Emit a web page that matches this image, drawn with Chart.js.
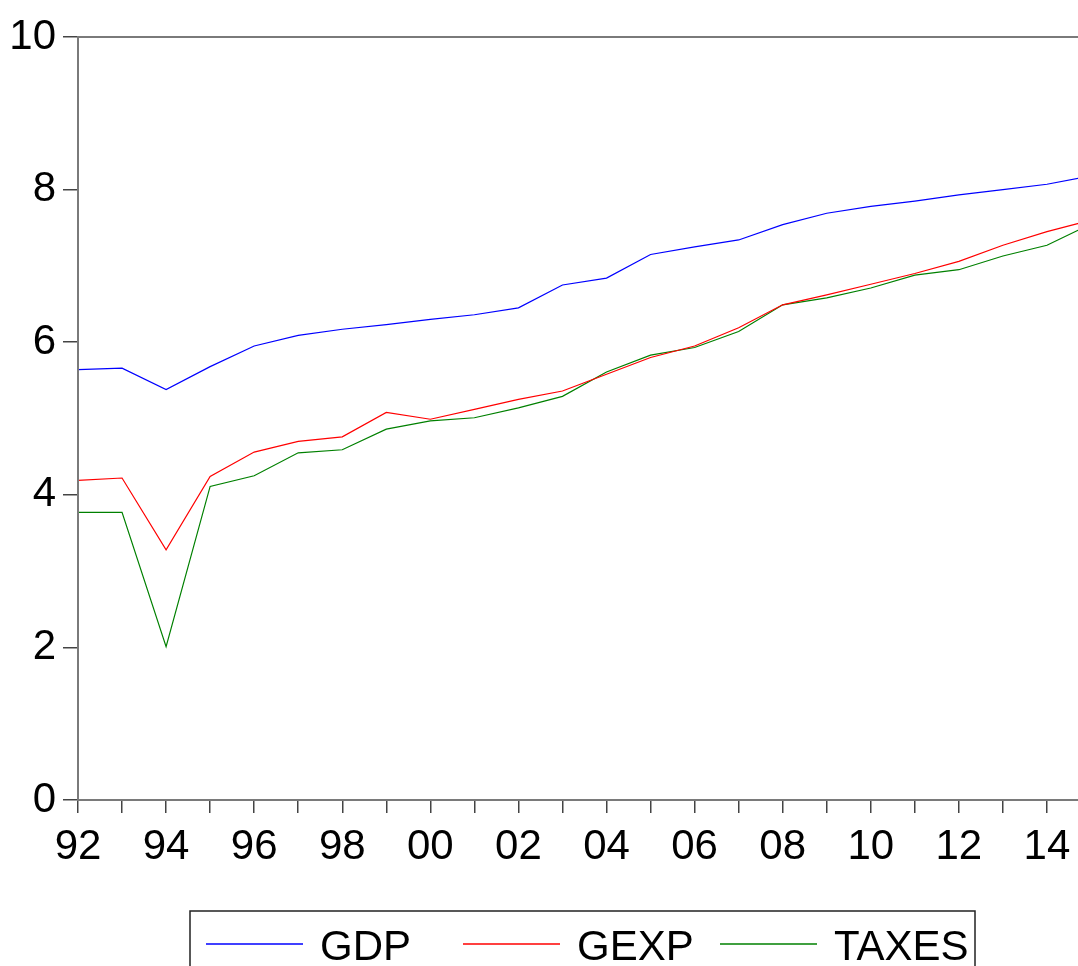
<!DOCTYPE html>
<html>
<head>
<meta charset="utf-8">
<title>GDP, GEXP, TAXES</title>
<script src="https://cdn.jsdelivr.net/npm/chart.js@4.4.1/dist/chart.umd.min.js"></script>
<style>
    html, body { margin: 0; padding: 0; background: #fff; overflow: hidden; }
    #wrap { width: 1100px; height: 1000px; }
</style>
</head>
<body>
<div id="wrap"><canvas id="chart" width="1100" height="1000"></canvas></div>
<script>
// Years 1992 - 2015 (two-digit labels, every second one shown)
const years = ['92', '93', '94', '95', '96', '97', '98', '99', '00', '01', '02', '03',
               '04', '05', '06', '07', '08', '09', '10', '11', '12', '13', '14', '15'];

const gdp = [5.64, 5.66, 5.38, 5.68, 5.95, 6.09, 6.17, 6.23, 6.30, 6.36, 6.45, 6.75,
             6.84, 7.15, 7.25, 7.34, 7.54, 7.69, 7.78, 7.85, 7.93, 8.00, 8.07, 8.18];

const gexp = [4.19, 4.22, 3.28, 4.24, 4.56, 4.70, 4.76, 5.08, 4.99, 5.12, 5.25, 5.36,
              5.58, 5.80, 5.95, 6.19, 6.49, 6.62, 6.76, 6.90, 7.06, 7.27, 7.45, 7.60];

const taxes = [3.77, 3.77, 2.01, 4.11, 4.25, 4.55, 4.59, 4.86, 4.97, 5.01, 5.14, 5.29,
               5.61, 5.83, 5.93, 6.14, 6.49, 6.58, 6.71, 6.88, 6.95, 7.13, 7.27, 7.55];

const yTicks = [0, 2, 4, 6, 8, 10];

const seriesNames = ['GDP', 'GEXP', 'TAXES'];
const seriesColors = ['#0000FF', '#FF0000', '#008000'];

const FONT = '"Liberation Sans", Arial, sans-serif';

// frame around the plot area (EViews style box)
const framePlugin = {
    id: 'frame',
    afterDatasetsDraw(chart) {
        const { ctx, chartArea: a } = chart;
        ctx.save();
        ctx.strokeStyle = '#7a7a7a';
        ctx.lineWidth = 2;
        ctx.strokeRect(a.left, a.top, a.right - a.left, a.bottom - a.top);
        ctx.restore();
    }
};

// boxed legend with equal-width columns, below the axis
const boxLegendPlugin = {
    id: 'boxLegend',
    afterDraw(chart) {
        const ctx = chart.ctx;
        const left = 190, right = 975, top = 911;
        const colW = 257;
        ctx.save();
        ctx.strokeStyle = '#222';
        ctx.lineWidth = 1.5;
        ctx.strokeRect(left, top, right - left, 120);

        ctx.font = '42px ' + FONT;
        ctx.textBaseline = 'alphabetic';
        ctx.fillStyle = '#000';
        chart.data.datasets.forEach((ds, i) => {
            const x0 = 206 + i * colW;
            ctx.strokeStyle = ds.borderColor;
            ctx.lineWidth = 1.5;
            ctx.beginPath();
            ctx.moveTo(x0, 944);
            ctx.lineTo(x0 + 97, 944);
            ctx.stroke();
            ctx.fillText(ds.label, x0 + 114, 960);
        });
        ctx.restore();
    }
};

const ctx = document.getElementById('chart').getContext('2d');
const data = [gdp, gexp, taxes];

new Chart(ctx, {
    type: 'line',
    data: {
        labels: years,
        datasets: seriesNames.map((name, i) => ({
            label: name,
            data: data[i],
            borderColor: seriesColors[i],
            backgroundColor: seriesColors[i],
            borderWidth: 1.2,
            pointRadius: 0,
            tension: 0,
            fill: false
        }))
    },
    options: {
        responsive: false,
        animation: false,
        layout: {
            padding: { left: 0, top: 37, right: 9, bottom: 140 }
        },
        plugins: {
            legend: { display: false },
            tooltip: { enabled: false }
        },
        scales: {
            x: {
                type: 'category',
                offset: false,
                afterFit: (scale) => { scale.height = 60; },
                grid: {
                    drawOnChartArea: false,
                    drawTicks: true,
                    tickLength: 13,
                    color: '#444',
                    lineWidth: 1.5
                },
                border: { display: true, color: '#7a7a7a', width: 2 },
                ticks: {
                    autoSkip: false,
                    maxRotation: 0,
                    padding: 9,
                    color: '#000',
                    font: { family: FONT, size: 42 },
                    callback: (val, idx) => (idx % 2 === 0 ? years[idx] : '')
                }
            },
            y: {
                min: 0,
                max: 10,
                afterFit: (scale) => { scale.width = 78; },
                afterBuildTicks: (scale) => {
                    scale.ticks = yTicks.map(v => ({ value: v }));
                },
                grid: {
                    drawOnChartArea: false,
                    drawTicks: true,
                    tickLength: 15,
                    color: '#444',
                    lineWidth: 1.5
                },
                border: { display: true, color: '#7a7a7a', width: 2 },
                ticks: {
                    padding: 7,
                    color: '#000',
                    font: { family: FONT, size: 42 }
                }
            }
        }
    },
    plugins: [framePlugin, boxLegendPlugin]
});
</script>
</body>
</html>
